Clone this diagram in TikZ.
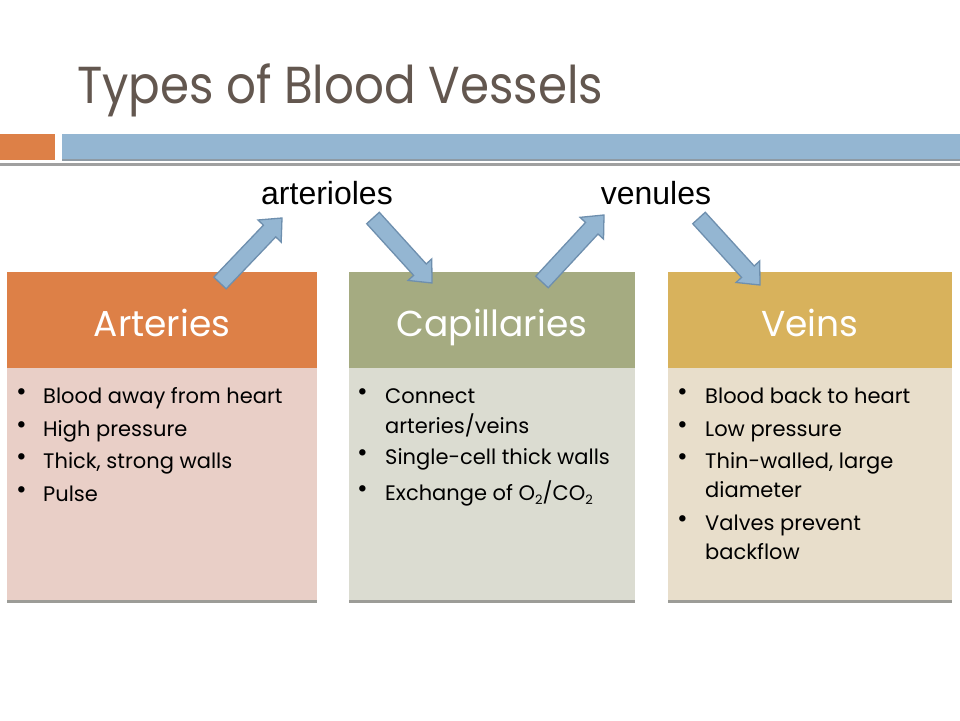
\documentclass[tikz,border=0pt]{standalone}
\usepackage{fontspec}
\setmainfont{Poppins}
\newfontfamily\arialf{Liberation Sans}
\usetikzlibrary{calc}
\definecolor{titlec}{HTML}{63574F}
\definecolor{barorange}{HTML}{DD8047}
\definecolor{barblue}{HTML}{94B6D2}
\definecolor{bargray}{HTML}{8E9AA4}
\definecolor{linegray}{HTML}{A0A0A0}
\definecolor{arthead}{HTML}{DD8047}
\definecolor{artbody}{HTML}{E9CFC7}
\definecolor{caphead}{HTML}{A5AB81}
\definecolor{capbody}{HTML}{DBDCD1}
\definecolor{veinhead}{HTML}{D8B25C}
\definecolor{veinbody}{HTML}{E8DECB}
\definecolor{shadowc}{HTML}{9C9C97}
\definecolor{arrfill}{HTML}{94B6D2}
\definecolor{arredge}{HTML}{6E8FAE}
\tikzset{
  hdrtext/.style={anchor=base, inner sep=0pt, text=white, font=\fontsize{36}{40}\selectfont},
  itemtext/.style={anchor=base west, inner sep=0pt, text=black, font=\fontsize{21}{24}\selectfont},
  bultext/.style={anchor=base west, inner sep=0pt, text=black, font=\fontsize{26}{28}\selectfont},
  lbltext/.style={anchor=base, inner sep=0pt, text=black, font=\arialf\fontsize{32}{36}\selectfont},
  blockarr/.style={fill=arrfill, draw=arredge, line width=1.3pt, line join=miter},
}
\newcommand\bloodarrow[3]{%
  \coordinate (#3n) at ($(#2)!18pt!(#1)$);
  \draw[blockarr] ($(#1)!8.5pt!90:(#2)$) -- ($(#3n)!8.5pt!-90:(#1)$) -- ($(#3n)!16pt!-90:(#1)$)
    -- (#2) -- ($(#3n)!16pt!90:(#1)$) -- ($(#3n)!8.5pt!90:(#1)$) -- ($(#1)!8.5pt!-90:(#2)$) -- cycle;
}
\begin{document}
\begin{tikzpicture}[x=1pt,y=-1pt]
\useasboundingbox[fill=white] (0,0) rectangle (960,720);
% title
\node[anchor=base west, inner sep=0pt, text=titlec, font=\fontsize{52}{56}\selectfont] (title) at (77,103) {\scalebox{0.9}[1]{Types of Blood Vessels}};
% bars
\fill[barorange] (0,134) rectangle (55,160);
\fill[barblue] (62,134) rectangle (960,158.5);
\fill[bargray] (62,158.5) rectangle (960,161);
\fill[linegray] (0,163) rectangle (960,165.5);
% boxes
\foreach \xa/\xb/\hc/\bc in {7/317/arthead/artbody, 349/635/caphead/capbody, 668/952/veinhead/veinbody}{
  \fill[shadowc] (\xa,598) rectangle (\xb,603);
  \fill[\bc] (\xa,368) rectangle (\xb,600);
  \fill[\hc] (\xa,272) rectangle (\xb,368);
}
\node[hdrtext] (arteries) at (162,336) {Arteries};
\node[hdrtext] (capillaries) at (492,336) {Capillaries};
\node[hdrtext] (veins) at (810,336) {Veins};
% arteries items
\foreach \y/\t in {403/Blood away from heart, 436/High pressure, 468/{Thick, strong walls}, 501/Pulse}{
  \node[bultext] at (16,\y-3) {•};
  \node[itemtext] at (43,\y) {\t};
}
% capillaries items
\foreach \y in {403,464,500}{ \node[bultext] at (357,\y-3) {•}; }
\node[itemtext] (c1) at (385,403) {Connect};
\node[itemtext] (c2) at (385,433) {arteries/veins};
\node[itemtext] (c3) at (385,464) {Single-cell thick walls};
\node[itemtext] (c4) at (385,500) {Exchange of O\raisebox{-4pt}{\fontsize{13}{14}\selectfont 2}/CO\raisebox{-4pt}{\fontsize{13}{14}\selectfont 2}};
% veins items
\foreach \y in {403,436,468,530}{ \node[bultext] at (677,\y-3) {•}; }
\node[itemtext] (v1) at (705,403) {Blood back to heart};
\node[itemtext] (v2) at (705,436) {Low pressure};
\node[itemtext] (v3) at (705,468) {Thin-walled, large};
\node[itemtext] (v4) at (705,497) {diameter};
\node[itemtext] (v5) at (705,530) {Valves prevent};
\node[itemtext] (v6) at (705,559) {backflow};
% labels
\node[lbltext] (arterioles) at (327,204) {arterioles};
\node[lbltext] (venules) at (656,204) {venules};
% arrows
\coordinate (a1s) at (220,283);
\coordinate (a1e) at (282,218);
\coordinate (a2s) at (373,218);
\coordinate (a2e) at (432,283);
\coordinate (a3s) at (542,282);
\coordinate (a3e) at (604,215);
\coordinate (a4s) at (699,218);
\coordinate (a4e) at (760,285);
\bloodarrow{a1s}{a1e}{p1}
\bloodarrow{a2s}{a2e}{p2}
\bloodarrow{a3s}{a3e}{p3}
\bloodarrow{a4s}{a4e}{p4}
\end{tikzpicture}
\end{document}
